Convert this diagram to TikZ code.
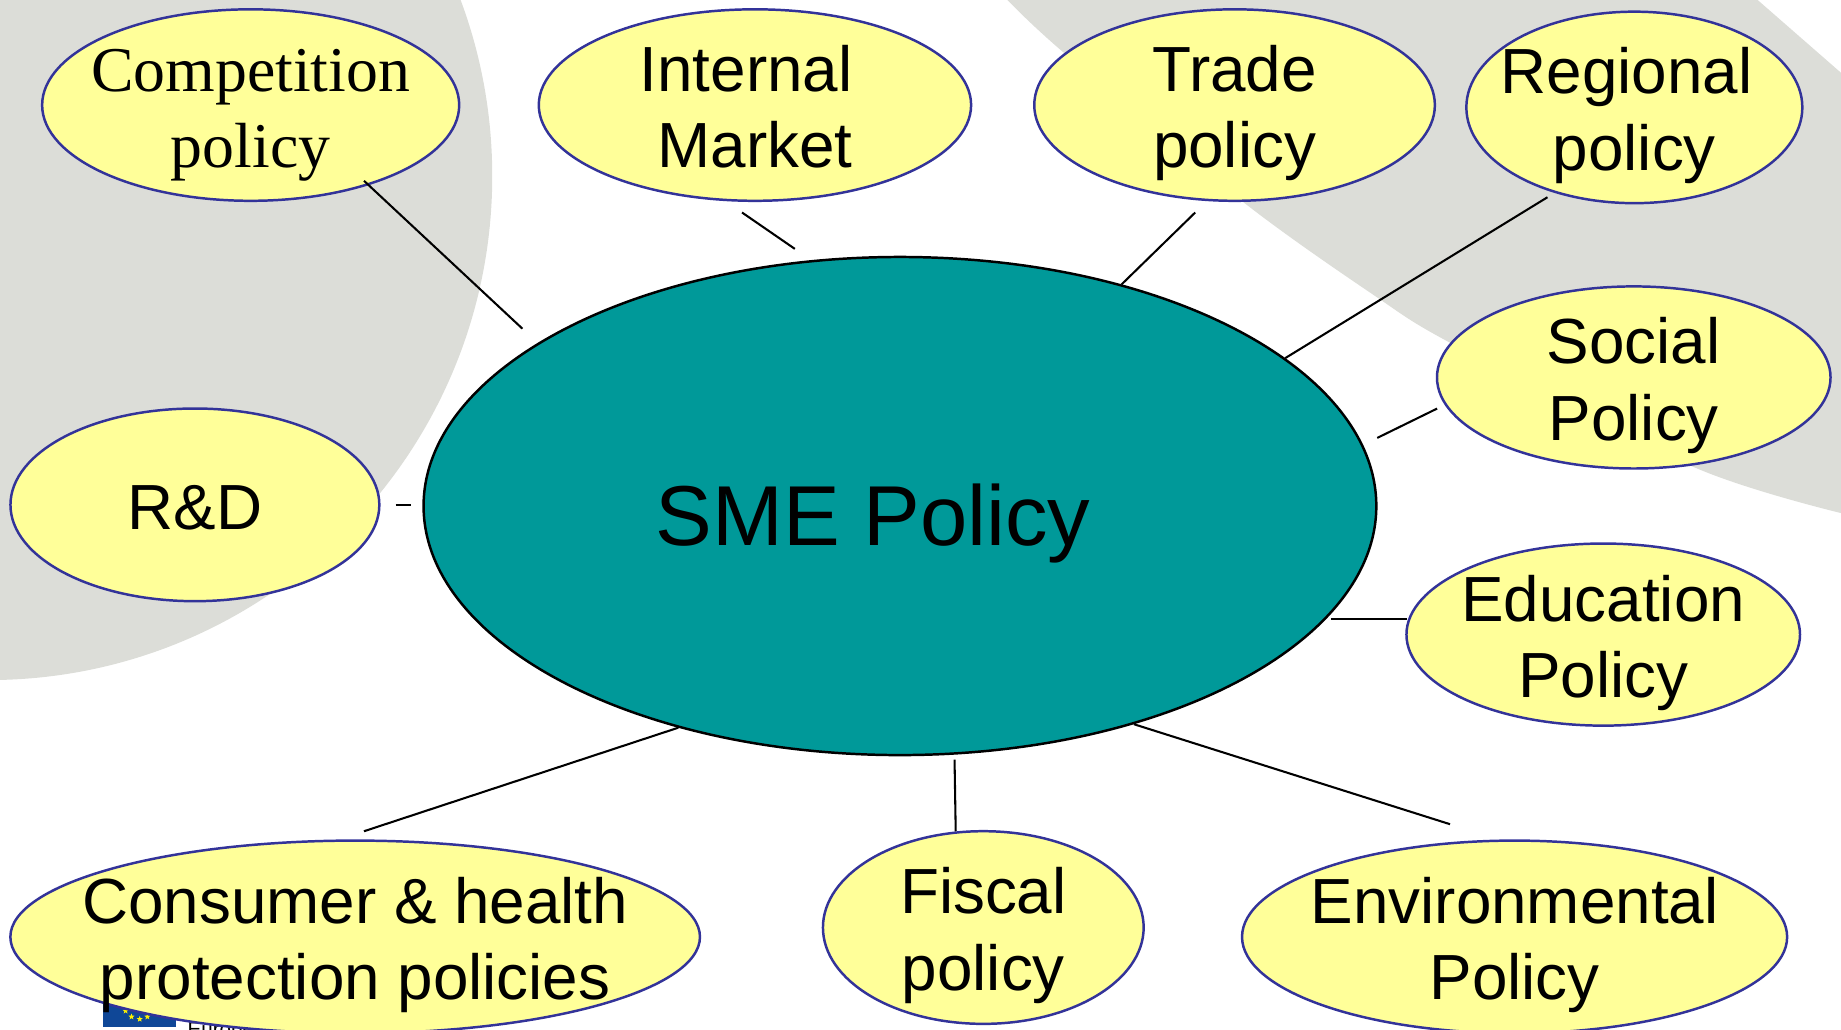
\documentclass[tikz,border=0pt]{standalone}
\usepackage{fontspec}
\setmainfont{Liberation Sans}
\newfontfamily\timesfont{Liberation Serif}
\usetikzlibrary{shapes.geometric,positioning}
\definecolor{bandgrey}{RGB}{220,221,216}
\definecolor{policyfill}{RGB}{255,255,153}
\definecolor{policyline}{RGB}{51,51,153}
\definecolor{smefill}{RGB}{0,153,153}
\definecolor{flagblue}{RGB}{15,71,151}
\tikzset{
  policy/.style={ellipse,draw=policyline,fill=policyfill,line width=0.6pt,inner sep=-3cm,align=center,
    font=\fontsize{15.45}{18.5}\selectfont,text height=1.07cm,text depth=0pt},
  smepolicy/.style={ellipse,draw=black,fill=smefill,line width=0.6pt,inner sep=-3cm,
    font=\fontsize{20.6}{24}\selectfont,text height=0.68cm,text depth=0pt},
  link/.style={draw=black,line width=0.5pt},
  eustar/.style={star,star points=5,star point ratio=2.4,fill=yellow,inner sep=0pt,minimum size=0.055cm}
}
\begin{document}
\begin{tikzpicture}[x=0.01cm,y=-0.01cm]
  \useasboundingbox (0,0) rectangle (1568,877);
  \clip (0,0) rectangle (1568,877);

  \fill[bandgrey] (-10,150) circle [radius=4.29cm];
  \fill[bandgrey] plot[smooth] coordinates {(858,0) (905,44) (1060,173) (1171,252) (1237,293) (1443,398) (1568,437)}
    -- (1568,62) -- (1497,0) -- cycle;

  \fill[flagblue] (88,830) rectangle (150,875);
  \node[eustar] (star1) at (107,861) {};
  \node[eustar] (star2) at (112,866) {};
  \node[eustar] (star3) at (119,868) {};
  \node[eustar] (star4) at (125.5,866) {};
  \node[anchor=base west,inner sep=0pt,font=\fontsize{5}{6}\selectfont] (commission) at (159,882.6) {European Commission};

  \node[smepolicy,minimum width=8.11cm,minimum height=4.24cm] (sme) at (766.5,431) {SME Policy\kern0.46cm};

  \node[policy,minimum width=3.55cm,minimum height=1.63cm,font=\fontsize{15.45}{18.5}\selectfont\timesfont] (competition) at (213.5,89.5) {Competition\\policy};
  \node[policy,minimum width=3.68cm,minimum height=1.63cm] (internal) at (643,89.5) {Internal\kern0.15cm\\Market};
  \node[policy,minimum width=3.41cm,minimum height=1.63cm] (trade) at (1051.5,89.5) {Trade\\policy};
  \node[policy,minimum width=2.86cm,minimum height=1.63cm] (regional) at (1392,91.5) {Regional\kern0.13cm\\policy};
  \node[policy,minimum width=3.35cm,minimum height=1.55cm] (social) at (1391.5,321.5) {Social\\Policy};
  \node[policy,minimum width=3.35cm,minimum height=1.55cm] (education) at (1365.5,540.5) {Education\\Policy};
  \node[policy,minimum width=3.14cm,minimum height=1.64cm,text height=0.42cm] (rd) at (166,430) {R\&D};
  \node[policy,minimum width=5.87cm,minimum height=1.64cm] (consumer) at (302.5,798) {Consumer \& health\\protection policies};
  \node[policy,minimum width=2.73cm,minimum height=1.64cm] (fiscal) at (837.5,790) {Fiscal\\policy};
  \node[policy,minimum width=4.64cm,minimum height=1.64cm] (environmental) at (1290,798) {Environmental\\Policy};

  \coordinate (competitionstart) at (310,154);
  \coordinate (competitionend) at (445,280);
  \coordinate (internalstart) at (632,181);
  \coordinate (internalend) at (677,212);
  \coordinate (tradestart) at (1018,181);
  \coordinate (regionalstart) at (1318,168);
  \coordinate (socialstart) at (1224,348);
  \coordinate (socialend) at (1173,373);
  \coordinate (educationstart) at (1198,527);
  \coordinate (educationend) at (1134,527);
  \coordinate (rdstart) at (337,430);
  \coordinate (rdend) at (350,430);
  \coordinate (consumerstart) at (310,708);
  \coordinate (fiscalstart) at (813,647);
  \coordinate (fiscalend) at (814,708);
  \coordinate (environmentalstart) at (1235,702);

  \draw[link] (competitionstart) -- (competitionend);
  \draw[link] (internalstart) -- (internalend);
  \draw[link] (tradestart) -- (sme.45);
  \draw[link] (regionalstart) -- (sme.21);
  \draw[link] (socialstart) -- (socialend);
  \draw[link] (educationstart) -- (educationend);
  \draw[link] (rdstart) -- (rdend);
  \draw[link] (consumerstart) -- (sme.225);
  \draw[link] (fiscalstart) -- (fiscalend);
  \draw[link] (environmentalstart) -- (sme.-43);
\end{tikzpicture}
\end{document}
